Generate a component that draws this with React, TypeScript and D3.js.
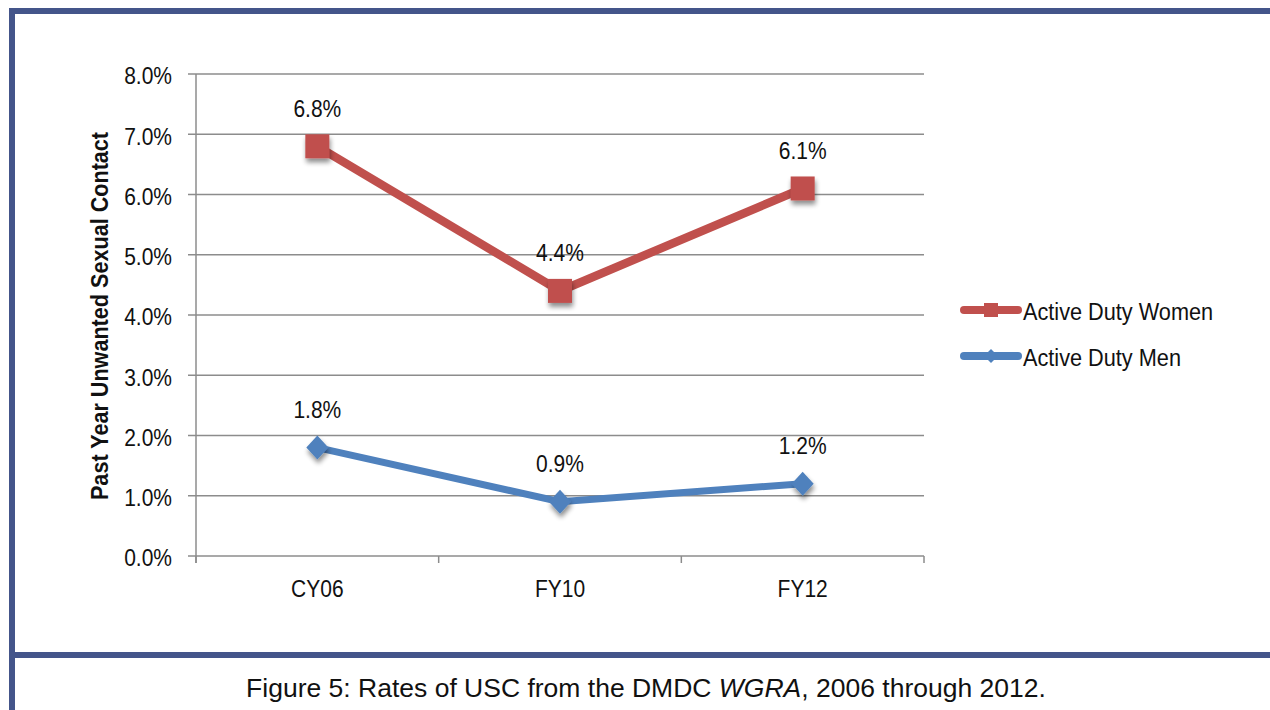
import React from "react";
import * as d3 from "d3";

const categories = ["CY06", "FY10", "FY12"];
const women = [6.8, 4.4, 6.1];
const men = [1.8, 0.9, 1.2];
const yTicks = [0, 1, 2, 3, 4, 5, 6, 7, 8];
const seriesNames = ["Active Duty Women", "Active Duty Men"];

const W = 1270, H = 710;
const plot = { left: 196, right: 924, top: 74, bottom: 556 };
const RED = "#c0504d";
const BLUE = "#4f81bd";
const BORDER = "#44558a";
const GRID = "#8c8c8c";
const FONT = "'Liberation Sans', Arial, sans-serif";
const SX = 0.875;

function T(props: { x: number; y: number; size: number; anchor?: string; children: React.ReactNode; sx?: number }) {
  const { x, y, size, anchor = "start", children, sx = SX } = props;
  return (
    <text transform={`translate(${x},${y}) scale(${sx},1)`} dy="0.35em" textAnchor={anchor} fontSize={size} fill="#111">
      {children}
    </text>
  );
}

export default function App() {
  const x = d3.scaleBand().domain(categories).range([plot.left, plot.right]);
  const y = d3.scaleLinear().domain([0, 8]).range([plot.bottom, plot.top]);
  const cx = (c: string) => (x(c) as number) + x.bandwidth() / 2;
  const line = d3.line<number>().x((_, i) => cx(categories[i])).y((d) => y(d));
  const fmt = (v: number) => v.toFixed(1) + "%";
  const boundaries = [...categories.map((c) => x(c) as number), plot.right];

  return (
    <svg width={W} height={H} style={{ position: "absolute", left: 0, top: 0, background: "#fff" }} fontFamily={FONT}>
      <defs>
        <filter id="sh" x="-50%" y="-50%" width="200%" height="200%">
          <feGaussianBlur in="SourceAlpha" stdDeviation="2.5" />
          <feOffset dx="1" dy="4" result="b" />
          <feComponentTransfer><feFuncA type="linear" slope="0.45" /></feComponentTransfer>
          <feMerge><feMergeNode /><feMergeNode in="SourceGraphic" /></feMerge>
        </filter>
      </defs>
      {/* frame */}
      <rect x={9} y={8} width={W - 9} height={6} fill={BORDER} />
      <rect x={9} y={8} width={6} height={H - 8} fill={BORDER} />
      <rect x={9} y={652} width={W - 9} height={6} fill={BORDER} />

      {/* grid */}
      {yTicks.map((t) => (
        <g key={t}>
          <line x1={plot.left - 8} x2={plot.right} y1={y(t)} y2={y(t)} stroke={GRID} strokeWidth={1.5} />
          <T x={172} y={y(t) + 2} size={24} anchor="end">{fmt(t)}</T>
        </g>
      ))}
      <line x1={plot.left} x2={plot.left} y1={plot.top} y2={plot.bottom + 7} stroke={GRID} strokeWidth={1.5} />
      {boundaries.map((b, i) => (
        <line key={i} x1={b} x2={b} y1={plot.bottom} y2={plot.bottom + 7} stroke={GRID} strokeWidth={1.5} />
      ))}
      {categories.map((c) => (
        <T key={c} x={cx(c)} y={589} size={24} anchor="middle">{c}</T>
      ))}
      <text transform={`translate(100,${(plot.top + plot.bottom) / 2 + 1}) rotate(-90) scale(0.9,1)`} textAnchor="middle" dy="0.35em" fontSize={24} fontWeight="bold" fill="#111">
        Past Year Unwanted Sexual Contact
      </text>

      {/* lines */}
      <path d={line(women) || ""} fill="none" stroke={RED} strokeWidth={8.5} strokeLinejoin="miter" />
      <path d={line(men) || ""} fill="none" stroke={BLUE} strokeWidth={7} strokeLinejoin="miter" />
      {women.map((v, i) => (
        <rect key={i} x={cx(categories[i]) - 12} y={y(v) - 12} width={24} height={24} fill={RED} filter="url(#sh)" />
      ))}
      {men.map((v, i) => {
        const px = cx(categories[i]), py = y(v);
        return <path key={i} d={`M${px},${py - 12}L${px + 11},${py}L${px},${py + 12}L${px - 11},${py}Z`} fill={BLUE} filter="url(#sh)" />;
      })}
      {women.map((v, i) => (
        <T key={i} x={cx(categories[i])} y={y(v) - 38} size={24} anchor="middle">{fmt(v)}</T>
      ))}
      {men.map((v, i) => (
        <T key={i} x={cx(categories[i])} y={y(v) - 38} size={24} anchor="middle">{fmt(v)}</T>
      ))}

      {/* legend */}
      {seriesNames.map((name, i) => {
        const ly = 310 + i * 46;
        const color = i === 0 ? RED : BLUE;
        return (
          <g key={name}>
            <line x1={964} x2={1018} y1={ly} y2={ly} stroke={color} strokeWidth={8} strokeLinecap="round" />
            {i === 0 ? (
              <rect x={984} y={ly - 7} width={14} height={14} fill={color} />
            ) : (
              <path d={`M991,${ly - 7}L998,${ly}L991,${ly + 7}L984,${ly}Z`} fill={color} />
            )}
            <T x={1023} y={ly + 1} size={24.8}>{name}</T>
          </g>
        );
      })}

      {/* caption */}
      <text x={646} y={688} dy="0.35em" textAnchor="middle" fontSize={26.5} fill="#111">
        Figure 5: Rates of USC from the DMDC <tspan fontStyle="italic">WGRA</tspan>, 2006 through 2012.
      </text>
    </svg>
  );
}
